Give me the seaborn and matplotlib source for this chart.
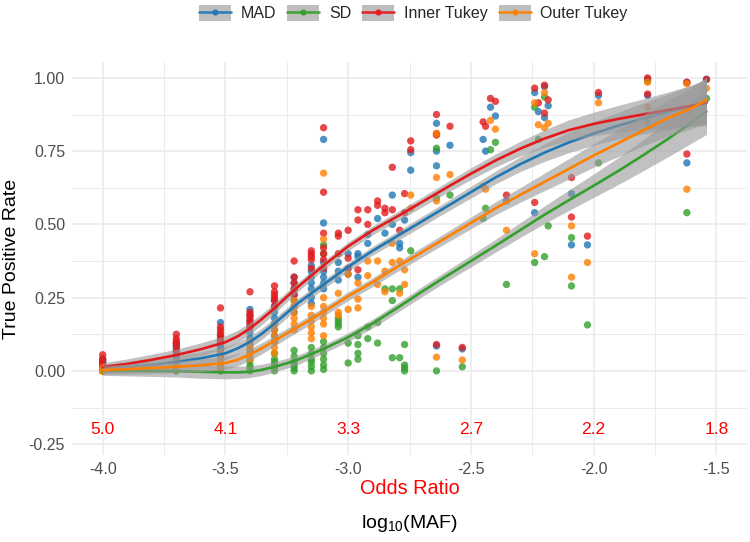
import numpy as np
import pandas as pd
import matplotlib
matplotlib.use('Agg')
import matplotlib.pyplot as plt
import seaborn as sns
from matplotlib.patches import Patch
from matplotlib.lines import Line2D
from matplotlib.legend_handler import HandlerTuple

# log10(MAF) positions of the point columns
col_x = [-4.00, -3.70, -3.52, -3.40, -3.30, -3.22, -3.15, -3.10, -3.04, -3.00,
         -2.96, -2.92, -2.88, -2.85, -2.82, -2.79, -2.77, -2.745, -2.64, -2.585,
         -2.535, -2.45, -2.44, -2.42, -2.40, -2.355, -2.24, -2.225, -2.20, -2.185,
         -2.09, -2.025, -1.98, -1.78, -1.62, -1.54]

# true positive rates per column, one list per method
mad_tpr = [
    [0.04, 0.035, 0.03, 0.02, 0.01, 0.0],
    [0.09, 0.08, 0.07, 0.06, 0.05, 0.04, 0.03, 0.02],
    [0.165, 0.12, 0.10, 0.09, 0.08, 0.07, 0.06, 0.05],
    [0.21, 0.19, 0.17, 0.15, 0.13, 0.11, 0.09, 0.07],
    [0.24, 0.22, 0.20, 0.18, 0.16, 0.14, 0.12, 0.10],
    [0.32, 0.30, 0.28, 0.26, 0.24, 0.22, 0.20],
    [0.36, 0.34, 0.32, 0.30, 0.28, 0.25, 0.23],
    [0.79, 0.505, 0.37, 0.34, 0.32, 0.30, 0.28],
    [0.37, 0.34, 0.31],
    [0.40, 0.35, 0.33],
    [0.40, 0.39, 0.32],
    [0.465, 0.435],
    [0.52],
    [0.47],
    [0.60, 0.50],
    [0.435, 0.42],
    [0.515],
    [0.745, 0.685],
    [0.845, 0.75, 0.70, 0.085],
    [0.77],
    [0.075],
    [0.79],
    [0.75],
    [0.90],
    [0.87],
    [0.58],
    [0.95, 0.54],
    [0.885],
    [0.97, 0.865],
    [0.905],
    [0.605, 0.43],
    [0.43],
    [0.94],
    [0.995, 0.94],
    [0.985, 0.71],
    [0.995],
]

sd_tpr = [
    [0.0, 0.0, 0.0, 0.005],
    [0.0, 0.0, 0.005],
    [0.02, 0.01, 0.0, 0.0],
    [0.035, 0.02, 0.01, 0.0],
    [0.06, 0.04, 0.03, 0.02, 0.01, 0.0],
    [0.07, 0.05, 0.03, 0.02, 0.01, 0.0],
    [0.08, 0.06, 0.04, 0.03, 0.015, 0.0],
    [0.43, 0.40, 0.10, 0.08, 0.06, 0.04, 0.02, 0.005],
    [0.18, 0.17, 0.16, 0.15],
    [0.095, 0.027],
    [0.12, 0.09, 0.06, 0.04],
    [0.15, 0.11],
    [0.165, 0.095],
    [0.28],
    [0.28, 0.24, 0.045],
    [0.28, 0.045],
    [0.09, 0.02, 0.01, 0.0],
    [0.41],
    [0.76, 0.59, 0.0],
    [0.60],
    [0.014],
    [0.52],
    [0.555],
    [0.755],
    [0.78],
    [0.295],
    [0.90, 0.37],
    [0.79],
    [0.935, 0.39],
    [0.495],
    [0.455, 0.29],
    [0.157],
    [0.71],
    [0.99, 0.85],
    [0.54],
    [0.93],
]

inner_tpr = [
    [0.055, 0.04, 0.03, 0.02, 0.01],
    [0.125, 0.11, 0.10, 0.095, 0.085, 0.07],
    [0.215, 0.15, 0.14, 0.13, 0.12, 0.11, 0.10],
    [0.27, 0.20, 0.19, 0.18, 0.17, 0.16, 0.15],
    [0.29, 0.27, 0.26, 0.25, 0.24, 0.22],
    [0.375, 0.32, 0.30, 0.28, 0.26],
    [0.41, 0.40, 0.39, 0.38, 0.35],
    [0.83, 0.61, 0.47, 0.42, 0.40, 0.38, 0.35],
    [0.47, 0.46, 0.40],
    [0.48, 0.385, 0.35],
    [0.55, 0.515, 0.345],
    [0.55, 0.50],
    [0.58, 0.565],
    [0.555, 0.54],
    [0.695, 0.55],
    [0.48],
    [0.605, 0.54],
    [0.785, 0.755],
    [0.875, 0.81, 0.805, 0.09],
    [0.835],
    [0.08],
    [0.85],
    [0.835],
    [0.93],
    [0.92],
    [0.60],
    [0.965, 0.575],
    [0.915],
    [0.975, 0.88],
    [0.925],
    [0.66, 0.525],
    [0.46],
    [0.95],
    [1.0, 0.945],
    [0.985, 0.74],
    [0.995],
]

outer_tpr = [
    [0.01, 0.0, 0.0],
    [0.03, 0.02, 0.01, 0.005],
    [0.06, 0.04, 0.03, 0.02, 0.01],
    [0.10, 0.08, 0.06, 0.05, 0.04],
    [0.16, 0.14, 0.12, 0.10, 0.08, 0.06],
    [0.24, 0.22, 0.20, 0.18, 0.16, 0.14],
    [0.22, 0.19, 0.17, 0.15, 0.13, 0.11],
    [0.675, 0.45, 0.25, 0.22, 0.20, 0.18, 0.16, 0.12],
    [0.265, 0.20, 0.19],
    [0.33, 0.21],
    [0.30, 0.245, 0.215],
    [0.375, 0.325],
    [0.375, 0.295],
    [0.34, 0.27],
    [0.435, 0.37],
    [0.375, 0.265],
    [0.345, 0.295],
    [0.60, 0.555],
    [0.81, 0.66, 0.58, 0.047],
    [0.67],
    [0.037],
    [0.63],
    [0.62],
    [0.855],
    [0.825],
    [0.48],
    [0.915, 0.40],
    [0.84],
    [0.95, 0.83],
    [0.845],
    [0.495, 0.32],
    [0.37],
    [0.915],
    [0.985, 0.90],
    [0.98, 0.62],
    [0.965],
]

# smoothed fits and ribbon half widths
fit_x = [-4.0, -3.9, -3.8, -3.7, -3.6, -3.5, -3.45, -3.4, -3.35, -3.3, -3.25, -3.2, -3.1, -3.0,
         -2.9, -2.8, -2.7, -2.6, -2.5, -2.4, -2.3, -2.2, -2.1, -2.0, -1.9, -1.8, -1.7, -1.6, -1.54]
mad_fit = [0.007, 0.013, 0.021, 0.031, 0.043, 0.06, 0.077, 0.099, 0.128, 0.162, 0.198, 0.234,
           0.295, 0.355, 0.41, 0.46, 0.51, 0.56, 0.61, 0.66, 0.705, 0.745, 0.78, 0.81, 0.837,
           0.861, 0.883, 0.905, 0.92]
sd_fit = [0.0, 0.0, 0.0, -0.001, -0.003, -0.005, -0.005, -0.003, 0.004, 0.014, 0.026, 0.04,
          0.075, 0.115, 0.162, 0.215, 0.27, 0.323, 0.375, 0.427, 0.48, 0.533, 0.583, 0.632,
          0.682, 0.735, 0.79, 0.848, 0.885]
inner_fit = [0.013, 0.024, 0.038, 0.054, 0.074, 0.098, 0.118, 0.145, 0.178, 0.214, 0.253, 0.29,
             0.36, 0.425, 0.48, 0.527, 0.576, 0.625, 0.673, 0.718, 0.758, 0.793, 0.822, 0.843,
             0.86, 0.875, 0.89, 0.905, 0.915]
outer_fit = [0.003, 0.006, 0.01, 0.014, 0.019, 0.027, 0.038, 0.056, 0.078, 0.103, 0.128, 0.152,
             0.202, 0.255, 0.303, 0.355, 0.405, 0.455, 0.505, 0.555, 0.6, 0.645, 0.69, 0.735,
             0.777, 0.82, 0.862, 0.897, 0.925]
ci_half = [0.015, 0.017, 0.019, 0.02, 0.022, 0.022, 0.021, 0.02, 0.019, 0.018, 0.017, 0.016,
           0.015, 0.015, 0.015, 0.016, 0.017, 0.018, 0.02, 0.022, 0.025, 0.03, 0.035, 0.04,
           0.046, 0.053, 0.061, 0.07, 0.078]

methods = ['MAD', 'SD', 'Inner Tukey', 'Outer Tukey']
colors = ['#1F78B4', '#33A02C', '#E31A1C', '#FF7F00']

# secondary axis labels
or_x = [-4.0, -3.5, -3.0, -2.5, -2.0, -1.5]
or_labels = ['5.0', '4.1', '3.3', '2.7', '2.2', '1.8']
x_ticks = [-4.0, -3.5, -3.0, -2.5, -2.0, -1.5]
x_tick_labels = ['-4.0', '-3.5', '-3.0', '-2.5', '-2.0', '-1.5']
y_ticks = [-0.25, 0.0, 0.25, 0.5, 0.75, 1.0]
y_tick_labels = ['-0.25', '0.00', '0.25', '0.50', '0.75', '1.00']

rows = []
for name, tpr in zip(methods, [mad_tpr, sd_tpr, inner_tpr, outer_tpr]):
    for x, ys in zip(col_x, tpr):
        for y in ys:
            rows.append({'maf': x, 'tpr': y, 'method': name})
points = pd.DataFrame(rows)

sns.set_style('white')
plt.rcParams['font.family'] = ['Liberation Sans', 'DejaVu Sans']
plt.rcParams['mathtext.fontset'] = 'custom'
plt.rcParams['mathtext.rm'] = 'Liberation Sans'

fig, ax = plt.subplots(figsize=(7.5, 5.42), dpi=100)
fig.subplots_adjust(left=0.096, right=0.996, top=0.886, bottom=0.16)

palette = dict(zip(methods, colors))
sns.scatterplot(data=points, x='maf', y='tpr', hue='method', palette=palette,
                s=28, alpha=0.8, edgecolor='none', legend=False, ax=ax, zorder=2)

ci = np.array(ci_half)
for name, fit in zip(methods, [mad_fit, sd_fit, inner_fit, outer_fit]):
    fit = np.array(fit)
    ax.fill_between(fit_x, fit - ci, fit + ci, color='#999999', alpha=0.6,
                    linewidth=0, zorder=3)
    sns.lineplot(x=fit_x, y=fit, color=palette[name], linewidth=1.9, ax=ax, zorder=3)

for x, lab in zip(or_x, or_labels):
    ax.text(x, -0.2, lab, color='red', ha='center', va='center', fontsize=12.5)

ax.set_xlim(-4.125, -1.375)
ax.set_ylim(-0.288, 1.055)
ax.set_xticks(x_ticks)
ax.set_xticklabels(x_tick_labels)
ax.set_yticks(y_ticks)
ax.set_yticklabels(y_tick_labels)
ax.set_xticks([-3.75, -3.25, -2.75, -2.25, -1.75], minor=True)
ax.set_yticks([-0.125, 0.125, 0.375, 0.625, 0.875], minor=True)
ax.grid(which='major', color='#EBEBEB', linewidth=1.2, zorder=0)
ax.grid(which='minor', color='#EBEBEB', linewidth=0.7, zorder=0)
ax.set_axisbelow(True)
ax.tick_params(axis='both', which='both', length=0, labelsize=11.5, colors='#4D4D4D')
ax.tick_params(axis='x', pad=5)
ax.tick_params(axis='y', pad=5)
for s in ax.spines.values():
    s.set_visible(False)

ax.set_xlabel('')
ax.set_ylabel('True Positive Rate', fontsize=14, color='black', labelpad=6)
fig.text(0.546, 1 - 489 / 542, 'Odds Ratio', color='red', ha='center', va='center', fontsize=14.3)
fig.text(0.546, 1 - 523 / 542, r'log$_{10}$(MAF)', color='black', ha='center', va='center', fontsize=14)

handles = [(Patch(facecolor='#BEBEBE', edgecolor='none'),
            Line2D([], [], color=c, linewidth=1.9, marker='o', markersize=4.5,
                   markerfacecolor=c, markeredgecolor='none', alpha=0.9))
           for c in colors]
fig.legend(handles, methods, loc='center', bbox_to_anchor=(0.551, 1 - 13 / 542), ncol=4,
           frameon=False, fontsize=11.5,
           handler_map={tuple: HandlerTuple(ndivide=1, pad=0)},
           handlelength=2.0, handleheight=1.2, handletextpad=0.6, columnspacing=0.7)

fig.savefig('out.png', dpi=100)
